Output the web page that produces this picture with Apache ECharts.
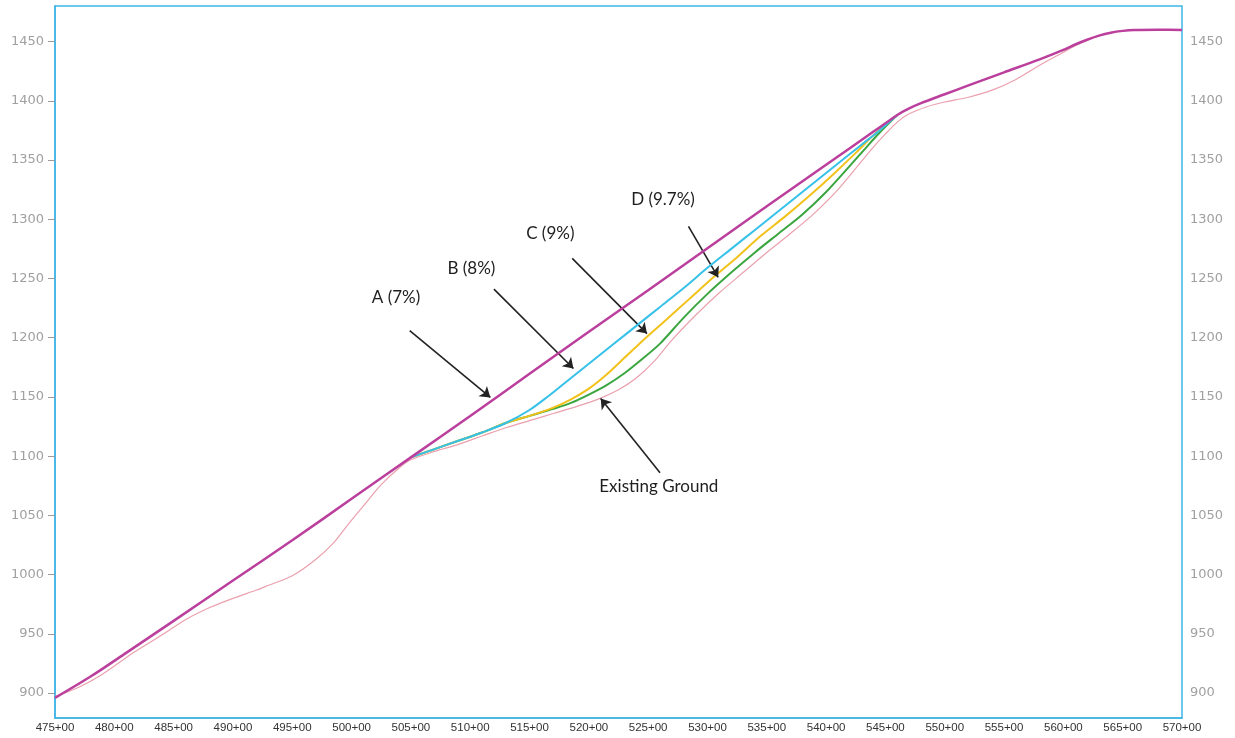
<!DOCTYPE html>
<html>
<head>
<meta charset="utf-8">
<title>Grade alternatives</title>
<script src="https://cdn.jsdelivr.net/npm/echarts@6/dist/echarts.min.js"></script>
<style>
  html, body { margin: 0; padding: 0; background: #fff; }
  #main { width: 1235px; height: 738px; }
</style>
</head>
<body>
<div id="main"></div>
<script>
// stations (hundreds of ft) and elevations
const aSta = [475, 478, 481, 485, 490, 495, 500, 505, 510, 515, 520, 525, 530, 535, 540, 544, 545, 546, 547, 548, 550, 552, 555, 558, 560, 561, 562, 563, 564, 565, 566, 568, 570]
const aElev = [896, 914, 934, 961, 995, 1029, 1064, 1099, 1134, 1169.5, 1205, 1240, 1275.5, 1311, 1346, 1374, 1381, 1388, 1393.5, 1398, 1405.5, 1413, 1424, 1435, 1443, 1447.5, 1451.5, 1455, 1457.5, 1459, 1459.8, 1460, 1459.8]

const bSta = [505, 507, 509, 511, 513, 515, 516.5, 518, 520, 522, 524, 526, 528, 530, 532, 534, 536, 538, 540, 542, 543.5, 544.5, 546]
const bElev = [1099, 1106, 1113, 1120, 1128, 1139, 1150, 1162, 1178, 1194, 1210, 1226, 1242, 1259, 1275, 1291, 1307, 1323, 1339, 1355, 1367, 1375, 1388]

const cSta = [505, 507, 509, 511, 513, 515, 517, 518.5, 520, 521.5, 523, 524.7, 526.5, 528.5, 530.5, 532.5, 534.5, 536.5, 538.5, 540.5, 542.5, 544, 545, 546]
const cElev = [1099, 1106, 1113, 1120, 1128, 1134, 1141, 1148, 1157, 1169, 1183, 1199, 1215, 1233, 1251, 1268, 1286, 1302, 1319, 1337, 1356, 1371, 1380, 1388]

const dSta = [505, 507, 509, 511, 513, 515, 517, 518.5, 520, 521.5, 523, 524.5, 526, 528, 530, 532, 534, 536, 538, 540, 542, 543.5, 544.5, 545.5, 546]
const dElev = [1099, 1106, 1113, 1120, 1128, 1134, 1140, 1145, 1152, 1160, 1170, 1182, 1195, 1217, 1237, 1255, 1272, 1288, 1304, 1323, 1345, 1362, 1373, 1383, 1388]

const gSta = [475, 477, 479, 481.6, 484, 486, 488, 490, 492, 493, 495, 497, 498.5, 499.6, 501, 502.5, 504, 505, 507, 509, 511, 513, 515, 517, 519, 521, 522.5, 524, 525.5, 527, 529, 531, 533, 535, 537, 539, 541, 543, 544, 545, 546, 547, 548.5, 550, 552, 554, 556, 558, 560, 561, 562, 563, 564, 565, 566, 568, 570]
const gElev = [897, 905, 916, 934, 949, 962, 972, 980, 987, 991, 999, 1013, 1027, 1041, 1058, 1076, 1090, 1097, 1104, 1110, 1117, 1124, 1130, 1136, 1142, 1149, 1156, 1166, 1180, 1198, 1219, 1238, 1255, 1272, 1288, 1305, 1325, 1349, 1361, 1372, 1382, 1389, 1395, 1399, 1403, 1409, 1418, 1430, 1441, 1446.5, 1451, 1455, 1457.5, 1459, 1459.8, 1460, 1459.8]

// callouts
const noteText = ['A (7%)', 'B (8%)', 'C (9%)', 'D (9.7%)', 'Existing Ground']
const noteSta = [503.75, 510.1, 516.75, 526.25, 525.9]
const noteElev = [1234, 1258, 1288, 1316.5, 1074]
const arrowFrom = [[504.9, 1206], [512.0, 1241], [518.6, 1267], [528.4, 1294], [526.0, 1086]]
const arrowTo = [[511.7, 1149.6], [518.7, 1174], [524.9, 1203.5], [530.9, 1251], [521.0, 1148.7]]

const yMin = 879
const yMax = 1480

function pairs(xs, ys) {
  return xs.map((x, i) => [x, ys[i]])
}

const chartDom = document.getElementById('main')
const myChart = echarts.init(chartDom)

const yLabel = {
  color: '#a0a0a0',
  fontSize: 13,
  fontFamily: 'DejaVu Sans',
  showMinLabel: false,
  showMaxLabel: false,
  formatter: (v) => (v % 50 === 0 ? String(v) : '')
}

function lineSeries(name, data, color, width, z) {
  return {
    name: name,
    type: 'line',
    data: data,
    smooth: 0.3,
    showSymbol: false,
    z: z,
    lineStyle: { color: color, width: width },
    itemStyle: { color: color }
  }
}

const option = {
  animation: false,
  backgroundColor: '#fff',
  grid: {
    left: 55,
    right: 53,
    top: 6,
    bottom: 20,
    show: true,
    borderColor: '#3fb5e6',
    borderWidth: 1.5
  },
  xAxis: {
    type: 'value',
    min: 475,
    max: 570,
    interval: 5,
    axisLine: { show: true, lineStyle: { color: '#3fb5e6', width: 1.5 } },
    axisTick: { show: false },
    splitLine: { show: false },
    axisLabel: {
      color: '#333',
      fontSize: 11.5,
      fontFamily: 'Liberation Sans',
      margin: 4,
      formatter: (v) => v + '+00'
    }
  },
  yAxis: [
    {
      type: 'value',
      position: 'left',
      min: yMin,
      max: yMax,
      splitNumber: 12,
      axisLine: { show: true, lineStyle: { color: '#3fb5e6', width: 1.5 } },
      axisTick: { show: true, length: 7, lineStyle: { color: '#9a9a9a' } },
      splitLine: { show: false },
      axisLabel: Object.assign({ margin: 11 }, yLabel)
    },
    {
      type: 'value',
      position: 'right',
      min: yMin,
      max: yMax,
      splitNumber: 12,
      axisLine: { show: false },
      axisTick: { show: false },
      splitLine: { show: false },
      axisLabel: Object.assign({ margin: 8 }, yLabel)
    }
  ],
  series: [
    lineSeries('Existing Ground', pairs(gSta, gElev), '#eaa0ae', 1.2, 2),
    lineSeries('D (9.7%)', pairs(dSta, dElev), '#3ba640', 2, 3),
    lineSeries('C (9%)', pairs(cSta, cElev), '#f2c21a', 2, 4),
    lineSeries('B (8%)', pairs(bSta, bElev), '#36c1e9', 2, 5),
    Object.assign(lineSeries('A (7%)', pairs(aSta, aElev), '#bb3f9c', 2.5, 6), {
      markLine: {
        silent: true,
        symbol: ['none', 'arrow'],
        symbolSize: 10,
        label: { show: false },
        lineStyle: { color: '#222', width: 1.6, type: 'solid' },
        data: arrowFrom.map((p, i) => [{ coord: p }, { coord: arrowTo[i] }])
      },
      markPoint: {
        silent: true,
        symbol: 'circle',
        symbolSize: 1,
        itemStyle: { color: 'rgba(0,0,0,0)' },
        label: {
          show: true,
          position: 'inside',
          color: '#1e1e1e',
          fontSize: 17,
          fontFamily: 'Lato',
          formatter: (p) => p.name
        },
        data: noteText.map((t, i) => ({ name: t, coord: [noteSta[i], noteElev[i]] }))
      }
    })
  ]
}

option && myChart.setOption(option)
</script>
</body>
</html>
